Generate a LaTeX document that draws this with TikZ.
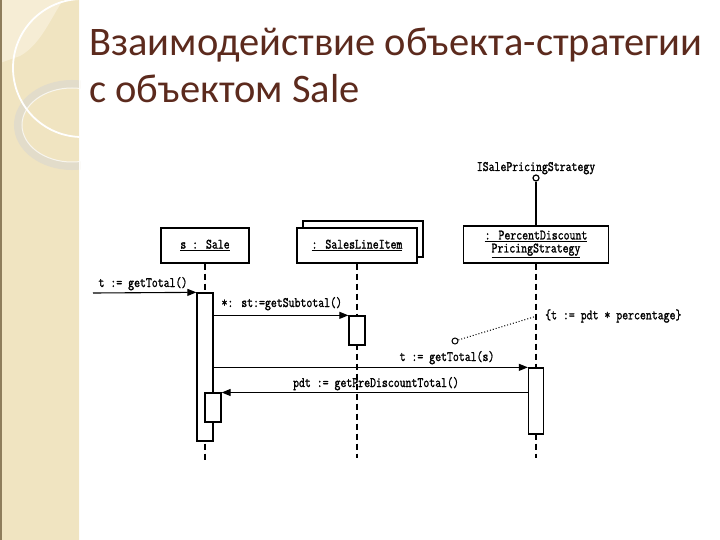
\documentclass[tikz,border=0pt]{standalone}
\usepackage{fontspec}
\usepackage{graphicx}
\setmainfont{Carlito}
\newfontfamily\monof[FakeBold=1.5]{Latin Modern Mono}
\newcommand{\mt}[1]{\scalebox{1}[1.25]{#1}}
\usetikzlibrary{arrows.meta}
\definecolor{strip}{HTML}{F0E4C1}
\definecolor{striplight}{HTML}{F6EDD5}
\definecolor{ringc}{HTML}{E2DCCA}
\definecolor{edgec}{HTML}{8E7D5C}
\definecolor{titlec}{HTML}{5C2A1D}
\tikzset{
  mono/.style={font=\monof\fontsize{11.5}{13}\selectfont},
  objbox/.style={draw, line width=1.3pt, fill=white, mono, inner sep=0pt, align=center},
  actbar/.style={draw, line width=1.3pt, fill=white, minimum width=16pt, inner sep=0pt},
  life/.style={line width=1.6pt, dash pattern=on 6pt off 4pt},
  msg/.style={line width=1.1pt, -{Triangle[length=9pt,width=7pt]}},
  titlet/.style={font=\fontsize{40.5}{48}\selectfont, text=titlec, inner sep=0pt},
}
\begin{document}
\begin{tikzpicture}[x=1pt,y=-1pt]
\useasboundingbox (0,0) rectangle (720,540);
\fill[white] (0,0) rectangle (720,540);
% left decorative strip
\fill[strip] (0,0) rectangle (80,540);
\begin{scope}
\clip (0,0) rectangle (80,540);
\fill[striplight] (0,0) -- (63,0) .. controls (50,20) and (40,45) .. (20,56) -- (0,63) -- cycle;
\draw[ringc, line width=8pt] (72,125) ellipse [x radius=54, y radius=41];
\draw[white, opacity=0.7, line width=1pt] (72,125) ellipse [x radius=50, y radius=37];
\draw[white, line width=1.8pt] (82,68) circle [radius=69];
\end{scope}
\fill[edgec] (0,0) rectangle (2,540);
\draw[white!90!strip, line width=0.8pt] (79.6,0) -- (79.6,540);
% title
\node[titlet, anchor=base west] (title1) at (89,56) {Взаимодействие объекта-стратегии};
\node[titlet, anchor=base west] (title2) at (89,103) {с объектом Sale};
% objects
\node[objbox, minimum width=88pt, minimum height=35pt] (sale) at (205,245.5) {\mt{\underline{s : Sale}}};
\node[draw, line width=1.3pt, fill=white, minimum width=120pt, minimum height=36pt] (sliback) at (363,239) {};
\node[objbox, minimum width=120pt, minimum height=35pt] (sli) at (357,245.5) {\mt{\underline{: SalesLineItem}}};
\node[objbox, minimum width=145pt, minimum height=37pt] (pdps) at (536,244.5) {\mt{\underline{: PercentDiscount}}\\[0pt]\mt{\underline{PricingStrategy}}};
\node[draw, circle, line width=1.2pt, minimum size=6pt, inner sep=0pt] (lolli) at (536,178) {};
\node[mono, anchor=base] (iface) at (536,171) {\mt{ISalePricingStrategy}};
\draw[line width=1.3pt] (lolli) -- (pdps.north);
% lifelines (behind bars)
\coordinate (sEnd) at (205,462);
\coordinate (liEnd) at (357,458);
\coordinate (pEnd) at (536,458);
\draw[life] (sale.south) -- (sEnd);
\draw[life] (sli.south) -- (liEnd);
\draw[life] (pdps.south) -- (pEnd);
% activation bars
\node[actbar, minimum height=148pt] (act1) at (205,367) {};
\node[actbar, minimum height=29pt] (act4) at (213,407.5) {};
\node[actbar, minimum height=29pt] (act2) at (357,330.5) {};
\node[actbar, minimum width=15pt, minimum height=66pt] (act3) at (536,401) {};
% messages
\coordinate (start) at (93,293);
\draw[msg] (start) -- (act1.north west);
\node[mono, anchor=base west] (m1) at (95,287) {\mt{t := getTotal()}};
\draw[msg] (act1.east |- act2.north) -- (act2.north west);
\node[mono, anchor=base west] (m2) at (218,307) {\mt{*: st:=getSubtotal()}};
\draw[msg] (act1.east |- act3.north) -- (act3.north west);
\node[mono, anchor=base] (m3) at (447,361) {\mt{t := getTotal(s)}};
\draw[msg] (act3.west |- 0,392.5) -- (act4.east |- 0,392.5);
\node[mono, anchor=base] (m4) at (376,387) {\mt{pdt := getPreDiscountTotal()}};
% constraint note
\node[draw, circle, line width=1pt, minimum size=6pt, inner sep=0pt] (nc) at (455,341) {};
\coordinate (nEnd) at (537,316);
\draw[line width=1pt, dotted] (nc) -- (nEnd);
\node[mono, anchor=west, inner sep=1pt] (note) at (544,316) {\mt{\{t := pdt * percentage\}}};
\end{tikzpicture}
\end{document}
